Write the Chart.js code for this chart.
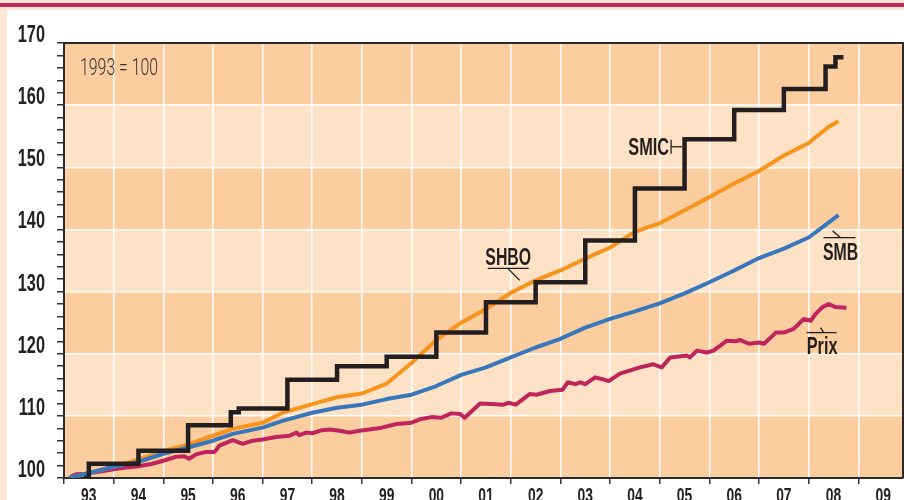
<!DOCTYPE html>
<html>
<head>
<meta charset="utf-8">
<script src="https://cdn.jsdelivr.net/npm/chart.js@4/dist/chart.umd.min.js"></script>
<style>
  html, body { margin: 0; padding: 0; background: #fff; }
  #wrap { width: 904px; height: 500px; position: relative; }
</style>
</head>
<body>
<div id="wrap"><canvas id="salaires"></canvas></div>
<script>
// index 1993 = 100, x in decimal years
var yTicks = [100, 110, 120, 130, 140, 150, 160, 170];
var yearLabels = ['93', '94', '95', '96', '97', '98', '99', '00', '01', '02', '03', '04', '05', '06', '07', '08', '09'];

// SMIC : revalorisations (step at each date)
var smicDates = [1993.40, 1993.50, 1994.50, 1995.50, 1996.36, 1996.52, 1997.50, 1998.50, 1999.50, 2000.50,
                 2001.50, 2002.50, 2003.50, 2004.50, 2005.50, 2006.50, 2007.50, 2008.34, 2008.54, 2008.70];
var smicValues = [100.0, 102.3, 104.4, 108.5, 110.6, 111.2, 115.8, 118.0, 119.5, 123.4,
                  128.3, 131.5, 138.2, 146.6, 154.5, 159.2, 162.6, 166.2, 167.7, 167.7];

// SHBO and SMB share the same dates
var wageDates = [1993.10, 1993.50, 1994.00, 1994.50, 1995.00, 1995.50, 1996.00, 1996.40, 1997.00, 1997.40,
                 1998.00, 1998.50, 1999.00, 1999.50, 2000.00, 2000.50, 2001.00, 2001.50, 2002.00, 2002.50,
                 2003.00, 2003.50, 2004.00, 2004.50, 2005.00, 2005.50, 2006.00, 2006.50, 2007.00, 2007.50,
                 2008.00, 2008.40, 2008.60];
var shboValues = [100.0, 100.8, 101.8, 103.0, 104.3, 105.4, 106.8, 107.9, 108.9, 110.5,
                  111.9, 113.0, 113.6, 115.2, 118.5, 122.2, 125.0, 127.2, 129.8, 131.8,
                  133.4, 135.3, 137.1, 139.6, 141.0, 143.1, 145.2, 147.4, 149.4, 151.9,
                  153.9, 156.5, 157.4];
var smbValues = [100.0, 100.8, 101.8, 102.6, 103.9, 104.9, 106.0, 107.1, 108.1, 109.2,
                 110.5, 111.3, 111.8, 112.7, 113.4, 114.8, 116.6, 117.8, 119.4, 121.0,
                 122.4, 124.2, 125.6, 126.8, 128.1, 129.7, 131.5, 133.4, 135.4, 136.9,
                 138.7, 141.1, 142.3];

// Prix
var prixDates = [1993.13, 1993.24, 1993.44, 1993.70, 1994.00, 1994.25, 1994.50, 1994.78, 1995.05, 1995.25,
                 1995.42, 1995.52, 1995.66, 1995.86, 1996.03, 1996.13, 1996.40, 1996.60, 1996.80, 1997.00,
                 1997.27, 1997.54, 1997.68, 1997.74, 1997.88, 1998.00, 1998.20, 1998.35, 1998.55, 1998.75,
                 1998.95, 1999.15, 1999.40, 1999.70, 2000.00, 2000.20, 2000.40, 2000.60, 2000.80, 2000.98,
                 2001.07, 2001.38, 2001.60, 2001.85, 2001.95, 2002.10, 2002.38, 2002.52, 2002.79, 2003.04,
                 2003.15, 2003.30, 2003.40, 2003.50, 2003.70, 2003.85, 2003.97, 2004.20, 2004.60, 2004.87,
                 2005.04, 2005.21, 2005.55, 2005.61, 2005.75, 2005.95, 2006.08, 2006.22, 2006.35, 2006.52,
                 2006.62, 2006.80, 2007.00, 2007.10, 2007.34, 2007.50, 2007.60, 2007.70, 2007.90, 2008.04,
                 2008.14, 2008.28, 2008.40, 2008.54, 2008.76];
var prixValues = [100.2, 100.6, 100.7, 101.0, 101.4, 101.7, 101.9, 102.3, 102.9, 103.4,
                  103.5, 103.1, 103.8, 104.2, 104.2, 105.2, 106.1, 105.5, 106.0, 106.2,
                  106.6, 106.8, 107.3, 106.9, 107.3, 107.2, 107.7, 107.8, 107.6, 107.3,
                  107.6, 107.8, 108.1, 108.7, 108.9, 109.5, 109.8, 109.7, 110.4, 110.3,
                  109.7, 112.0, 111.9, 111.8, 112.1, 111.8, 113.5, 113.4, 114.0, 114.2,
                  115.4, 115.1, 115.4, 115.1, 116.2, 115.9, 115.6, 116.8, 117.8, 118.3,
                  117.8, 119.4, 119.7, 119.4, 120.5, 120.2, 120.5, 121.3, 122.1, 122.0,
                  122.2, 121.6, 121.8, 121.6, 123.4, 123.4, 123.7, 124.0, 125.6, 125.3,
                  126.4, 127.5, 128.0, 127.5, 127.4];

function toPoints(xs, ys) {
    return xs.map(function (x, i) { return { x: x, y: ys[i] }; });
}

var ink = '#231f20';

// narrow look: the condensed face is not installed, so squeeze the glyphs
function condText(ctx, str, x, y, font, sx, align) {
    ctx.save();
    ctx.translate(x, y);
    ctx.scale(sx, 1);
    ctx.font = font;
    ctx.textAlign = align;
    ctx.textBaseline = 'alphabetic';
    ctx.fillText(str, 0, 0);
    ctx.restore();
}

function seg(ctx, x1, y1, x2, y2) {
    ctx.beginPath();
    ctx.moveTo(x1, y1);
    ctx.lineTo(x2, y2);
    ctx.stroke();
}

var BOLD = 'bold 24px "Liberation Sans", Arial, sans-serif';

// background bands, page frame, axis labels
var decorPlugin = {
    id: 'decor',
    beforeDraw: function (chart) {
        var ctx = chart.ctx, a = chart.chartArea, y = chart.scales.y;
        ctx.save();
        ctx.fillStyle = '#fde6d3';
        ctx.fillRect(0, 0, chart.width, 10);
        ctx.fillRect(0, 0, 7, chart.height);
        ctx.fillStyle = '#c1275a';
        ctx.fillRect(0, 3, chart.width, 4);
        for (var i = 0; i < yTicks.length - 1; i++) {
            var top = y.getPixelForValue(yTicks[i + 1]);
            var bot = y.getPixelForValue(yTicks[i]);
            ctx.fillStyle = i % 2 === 0 ? '#fbcd9f' : '#fde2c6';
            ctx.fillRect(a.left, top, a.right - a.left, bot - top);
        }
        ctx.restore();
    },
    afterDraw: function (chart) {
        var ctx = chart.ctx, a = chart.chartArea;
        var xs = chart.scales.x, ys = chart.scales.y;
        ctx.save();
        ctx.strokeStyle = '#2b2b2b';
        ctx.lineWidth = 2;
        ctx.beginPath();
        ctx.moveTo(a.left, a.top);
        ctx.lineTo(a.right, a.top);
        ctx.lineTo(a.right, a.bottom);
        ctx.stroke();

        ctx.fillStyle = ink;
        yTicks.forEach(function (v) {
            condText(ctx, String(v), a.left - 19, ys.getPixelForValue(v) - 1, BOLD, 0.68, 'right');
        });
        yearLabels.forEach(function (lab, i) {
            condText(ctx, lab, xs.getPixelForValue(1993 + i + 0.5), a.bottom + 24,
                     'bold 21px "Liberation Sans", Arial, sans-serif', 0.66, 'center');
        });
        ctx.restore();
    }
};

// series names with their little leader lines
var namesPlugin = {
    id: 'names',
    afterDatasetsDraw: function (chart) {
        var ctx = chart.ctx, a = chart.chartArea;
        var X = function (v) { return chart.scales.x.getPixelForValue(v); };
        var Y = function (v) { return chart.scales.y.getPixelForValue(v); };
        ctx.save();
        ctx.fillStyle = '#333';
        condText(ctx, '1993 = 100', a.left + 16, a.top + 32, '300 23px Roboto, "Liberation Sans", sans-serif', 0.69, 'left');

        ctx.fillStyle = ink;
        ctx.strokeStyle = ink;
        ctx.lineWidth = 1.3;

        // SMIC
        var sx = X(2005.45), sy = Y(153.3);
        condText(ctx, 'SMIC', sx - 13, sy + 8.5, BOLD, 0.68, 'right');
        seg(ctx, sx - 11, sy - 7, sx - 11, sy + 7);
        seg(ctx, sx - 11, sy, sx, sy);

        // SHBO
        var hx = X(2002.18), hy = Y(131.8);
        condText(ctx, 'SHBO', hx - 11.5, hy - 15, BOLD, 0.66, 'center');
        seg(ctx, hx - 32, hy - 12, hx + 9, hy - 12);
        seg(ctx, hx - 12, hy - 12, hx, hy);

        // SMB
        var bx = X(2008.48), by = Y(139.8);
        seg(ctx, bx, by, bx + 8, by + 7);
        seg(ctx, bx - 9, by + 7, bx + 23, by + 7);
        condText(ctx, 'SMB', bx + 8, by + 29, BOLD, 0.66, 'center');

        // Prix
        var px = X(2008.24), py = Y(124.2);
        seg(ctx, px, py, px + 3, py + 5);
        seg(ctx, px - 14, py + 5, px + 16, py + 5);
        condText(ctx, 'Prix', px + 1.5, py + 26, BOLD, 0.68, 'center');
        ctx.restore();
    }
};

var lineStyle = { fill: false, pointRadius: 0, borderWidth: 4, tension: 0, borderCapStyle: 'butt', borderJoinStyle: 'round' };

new Chart(document.getElementById('salaires'), {
    type: 'line',
    data: {
        datasets: [
            Object.assign({ label: 'SMIC', data: toPoints(smicDates, smicValues), borderColor: ink, stepped: 'before', order: 0 }, lineStyle, { borderJoinStyle: 'miter', borderWidth: 4.5 }),
            Object.assign({ label: 'SMB', data: toPoints(wageDates, smbValues), borderColor: '#3677bd', order: 1 }, lineStyle),
            Object.assign({ label: 'SHBO', data: toPoints(wageDates, shboValues), borderColor: '#f7941d', order: 2 }, lineStyle),
            Object.assign({ label: 'Prix', data: toPoints(prixDates, prixValues), borderColor: '#c0245c', order: 3 }, lineStyle)
        ]
    },
    options: {
        responsive: true,
        maintainAspectRatio: false,
        animation: false,
        layout: { padding: { top: 43, right: 1, left: 0, bottom: 0 } },
        plugins: { legend: { display: false }, tooltip: { enabled: false } },
        scales: {
            x: {
                type: 'linear',
                min: 1993,
                max: 2009.9,
                afterFit: function (s) { s.height = 22; },
                border: { color: '#2b2b2b', width: 2 },
                grid: { color: '#ffffff', lineWidth: 1.5, tickColor: '#333', tickWidth: 1.5, tickLength: 6 },
                ticks: { stepSize: 1, includeBounds: false, autoSkip: false, maxRotation: 0, display: false }
            },
            y: {
                min: 100,
                max: 170,
                afterFit: function (s) { s.width = 64; },
                border: { color: '#2b2b2b', width: 2 },
                grid: {
                    color: function (c) { return c.tick && c.tick.value % 10 === 0 ? '#ffffff' : 'rgba(0,0,0,0)'; },
                    lineWidth: 1.5,
                    tickColor: '#333',
                    tickWidth: 1.5,
                    tickLength: 7
                },
                ticks: { stepSize: 2, autoSkip: false, display: false }
            }
        }
    },
    plugins: [decorPlugin, namesPlugin]
});
</script>
</body>
</html>
